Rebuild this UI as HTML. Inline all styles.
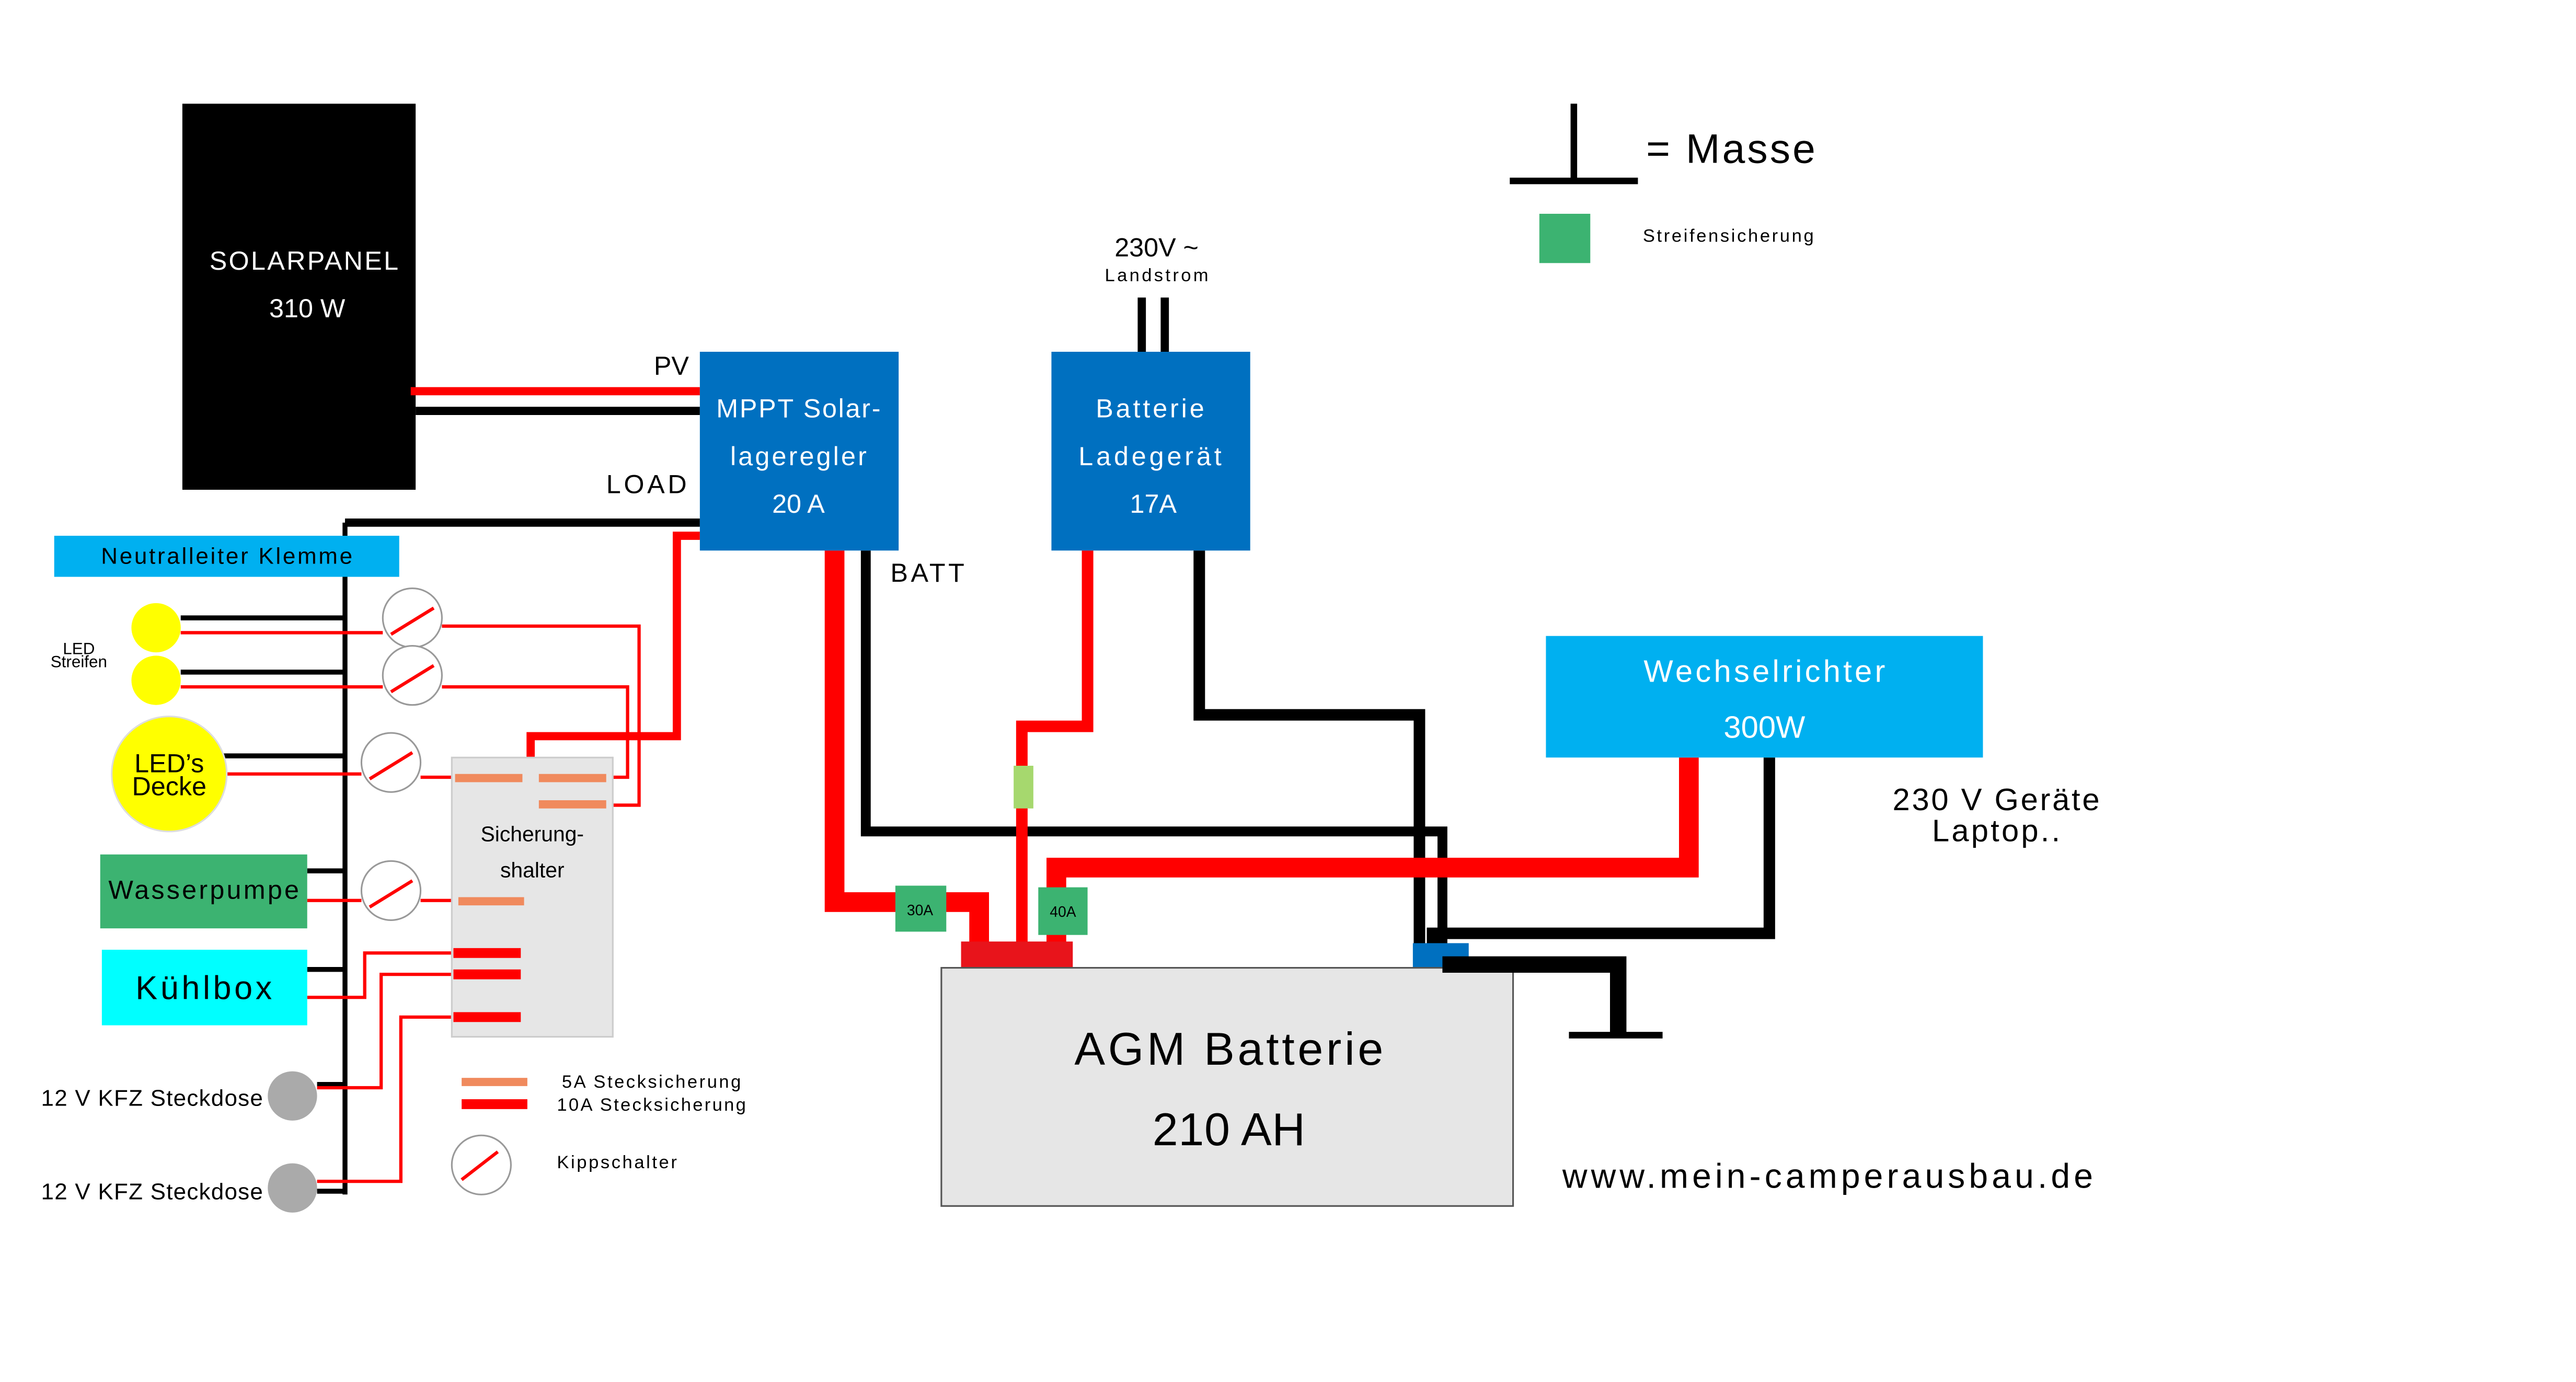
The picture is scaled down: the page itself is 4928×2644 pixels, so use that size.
<!DOCTYPE html>
<html><head><meta charset="utf-8"><style>html,body{margin:0;padding:0;background:#fff}svg{display:block}text{font-family:"Liberation Sans",sans-serif}</style></head><body>
<svg width="4928" height="2644" viewBox="0 0 1568 841" xmlns="http://www.w3.org/2000/svg">
<rect width="1568" height="841" fill="#fff"/>
<rect x="111" y="63" width="142" height="235" fill="#000"/>
<text x="185" y="164" font-size="16" fill="#fff" text-anchor="middle" textLength="115">SOLARPANEL</text>
<text x="187" y="193" font-size="16" fill="#fff" text-anchor="middle">310 W</text>
<line x1="250" y1="238" x2="426" y2="238" stroke="#f00" stroke-width="5"/>
<line x1="253" y1="250" x2="426" y2="250" stroke="#000" stroke-width="5"/>
<text x="398" y="228" font-size="16">PV</text>
<text x="369" y="300" font-size="16" textLength="49">LOAD</text>
<text x="542" y="354" font-size="16" textLength="45">BATT</text>
<polyline points="210,318 426,318" stroke="#000" stroke-width="5" fill="none"/>
<line x1="210" y1="318" x2="210" y2="727" stroke="#000" stroke-width="3"/>
<polyline points="426,326 412,326 412,448 323,448 323,462" stroke="#f00" stroke-width="5" fill="none"/>
<polyline points="508,335 508,549 596,549 596,576" stroke="#f00" stroke-width="12" fill="none"/>
<polyline points="527,335 527,506 878,506 878,576" stroke="#000" stroke-width="6" fill="none"/>
<polyline points="662,335 662,442 622,442 622,576" stroke="#f00" stroke-width="7" fill="none"/>
<polyline points="730,335 730,435 864,435 864,576" stroke="#000" stroke-width="7" fill="none"/>
<polyline points="1028,461 1028,528 643,528 643,576" stroke="#f00" stroke-width="12" fill="none"/>
<polyline points="1077,461 1077,568 872,568 872,576" stroke="#000" stroke-width="7" fill="none"/>
<rect x="617" y="466" width="12" height="26" fill="#a6d86e"/>
<rect x="545" y="539" width="31" height="28" fill="#3cb371"/>
<text x="560" y="557" font-size="9" text-anchor="middle">30A</text>
<rect x="632" y="540" width="30" height="29" fill="#3cb371"/>
<text x="647" y="558" font-size="9" text-anchor="middle">40A</text>
<rect x="426" y="214" width="121" height="121" fill="#0070c0"/>
<text x="486" y="254" font-size="16" fill="#fff" text-anchor="middle" textLength="100">MPPT Solar-</text>
<text x="486" y="283" font-size="16" fill="#fff" text-anchor="middle" textLength="83">lageregler</text>
<text x="486" y="312" font-size="16" fill="#fff" text-anchor="middle">20 A</text>
<line x1="695" y1="181" x2="695" y2="214" stroke="#000" stroke-width="5"/>
<line x1="709" y1="181" x2="709" y2="214" stroke="#000" stroke-width="5"/>
<text x="704" y="156" font-size="16" text-anchor="middle">230V ~</text>
<text x="704" y="171" font-size="11" text-anchor="middle" textLength="63">Landstrom</text>
<rect x="640" y="214" width="121" height="121" fill="#0070c0"/>
<text x="700" y="254" font-size="16" fill="#fff" text-anchor="middle" textLength="66">Batterie</text>
<text x="700" y="283" font-size="16" fill="#fff" text-anchor="middle" textLength="87">Ladegerät</text>
<text x="702" y="312" font-size="16" fill="#fff" text-anchor="middle">17A</text>
<rect x="941" y="387" width="266" height="74" fill="#00b0f0"/>
<text x="1074" y="415" font-size="19" fill="#fff" text-anchor="middle" textLength="147">Wechselrichter</text>
<text x="1074" y="449" font-size="19" fill="#fff" text-anchor="middle">300W</text>
<text x="1215" y="493" font-size="19" text-anchor="middle" textLength="126">230 V Geräte</text>
<text x="1215" y="512" font-size="19" text-anchor="middle" textLength="78">Laptop..</text>
<rect x="585" y="573" width="68" height="17" fill="#e8141b"/>
<rect x="860" y="574" width="34" height="15" fill="#0070c0"/>
<rect x="573" y="589" width="348" height="145" fill="#e6e6e6" stroke="#555" stroke-width="1"/>
<text x="748" y="648" font-size="28" text-anchor="middle" textLength="188">AGM Batterie</text>
<text x="748" y="697" font-size="28" text-anchor="middle" textLength="93">210 AH</text>
<polyline points="878,587 985,587 985,630" stroke="#000" stroke-width="10" fill="none"/>
<line x1="955" y1="630" x2="1012" y2="630" stroke="#000" stroke-width="4"/>
<line x1="958" y1="63" x2="958" y2="110" stroke="#000" stroke-width="4"/>
<line x1="919" y1="110" x2="997" y2="110" stroke="#000" stroke-width="4"/>
<text x="1002" y="99" font-size="25" textLength="103">= Masse</text>
<rect x="937" y="130" width="31" height="30" fill="#3cb371"/>
<text x="1000" y="147" font-size="11" textLength="104">Streifensicherung</text>
<text x="951" y="723" font-size="21" textLength="323">www.mein-camperausbau.de</text>
<rect x="33" y="326" width="210" height="25" fill="#00b0f0"/>
<text x="138" y="343" font-size="14" text-anchor="middle" textLength="153">Neutralleiter Klemme</text>
<text x="48" y="398" font-size="10" text-anchor="middle">LED</text>
<text x="48" y="406" font-size="10" text-anchor="middle">Streifen</text>
<g stroke="#000" stroke-width="3">
<line x1="110" y1="376" x2="210" y2="376"/>
<line x1="110" y1="409" x2="210" y2="409"/>
<line x1="135" y1="460" x2="210" y2="460"/>
<line x1="187" y1="530" x2="210" y2="530"/>
<line x1="187" y1="590" x2="210" y2="590"/>
<line x1="193" y1="660" x2="210" y2="660"/>
<line x1="193" y1="725" x2="210" y2="725"/>
</g>
<g stroke="#f00" stroke-width="2" fill="none">
<polyline points="110,385 233,385"/>
<polyline points="269,381 389,381 389,490 368,490"/>
<polyline points="110,418 233,418"/>
<polyline points="269,418 382,418 382,473 368,473"/>
<polyline points="135,471 220,471"/>
<polyline points="256,473 277,473"/>
<polyline points="187,548 220,548"/>
<polyline points="256,548 279,548"/>
<polyline points="187,607 222,607 222,580 276,580"/>
<polyline points="193,662 232,662 232,593 276,593"/>
<polyline points="193,719 244,719 244,619 276,619"/>
</g>
<circle cx="95" cy="382" r="15" fill="#ffff00"/>
<circle cx="95" cy="414" r="15" fill="#ffff00"/>
<circle cx="103" cy="471" r="35" fill="#ffff00" stroke="#ddd" stroke-width="1"/>
<text x="103" y="470" font-size="16" text-anchor="middle">LED’s</text>
<text x="103" y="484" font-size="16" text-anchor="middle">Decke</text>
<rect x="61" y="520" width="126" height="45" fill="#3cb371"/>
<text x="124" y="547" font-size="16" text-anchor="middle" textLength="116">Wasserpumpe</text>
<rect x="62" y="578" width="125" height="46" fill="#00ffff"/>
<text x="124" y="608" font-size="20" text-anchor="middle" textLength="83">Kühlbox</text>
<circle cx="178" cy="667" r="15" fill="#aaa"/>
<circle cx="178" cy="723" r="15" fill="#aaa"/>
<text x="25" y="673" font-size="14" textLength="135">12 V KFZ Steckdose</text>
<text x="25" y="730" font-size="14" textLength="135">12 V KFZ Steckdose</text>
<g fill="#fff" stroke="#999" stroke-width="1">
<circle cx="251" cy="376" r="18"/><circle cx="251" cy="411" r="18"/>
<circle cx="238" cy="464" r="18"/><circle cx="238" cy="542" r="18"/>
<circle cx="293" cy="709" r="18"/>
</g>
<g stroke="#f00" stroke-width="2">
<line x1="238" y1="386" x2="264" y2="370"/><line x1="238" y1="421" x2="264" y2="405"/>
<line x1="225" y1="474" x2="251" y2="458"/><line x1="225" y1="552" x2="251" y2="536"/>
<line x1="281" y1="718" x2="303" y2="701"/>
</g>
<rect x="275" y="461" width="98" height="170" fill="#e6e6e6" stroke="#ccc"/>
<text x="324" y="512" font-size="13" text-anchor="middle">Sicherung-</text>
<text x="324" y="534" font-size="13" text-anchor="middle">shalter</text>
<g fill="#f08a5d">
<rect x="277" y="471" width="41" height="5"/><rect x="328" y="471" width="41" height="5"/>
<rect x="328" y="487" width="41" height="5"/><rect x="279" y="546" width="40" height="5"/>
<rect x="281" y="656" width="40" height="5"/>
</g>
<g fill="#f00">
<rect x="276" y="577" width="41" height="6"/><rect x="276" y="590" width="41" height="6"/>
<rect x="276" y="616" width="41" height="6"/><rect x="281" y="669" width="40" height="6"/>
</g>
<text x="342" y="662" font-size="11" textLength="109">5A Stecksicherung</text>
<text x="339" y="676" font-size="11" textLength="115">10A Stecksicherung</text>
<text x="339" y="711" font-size="11" textLength="73">Kippschalter</text>
</svg>
</body></html>
